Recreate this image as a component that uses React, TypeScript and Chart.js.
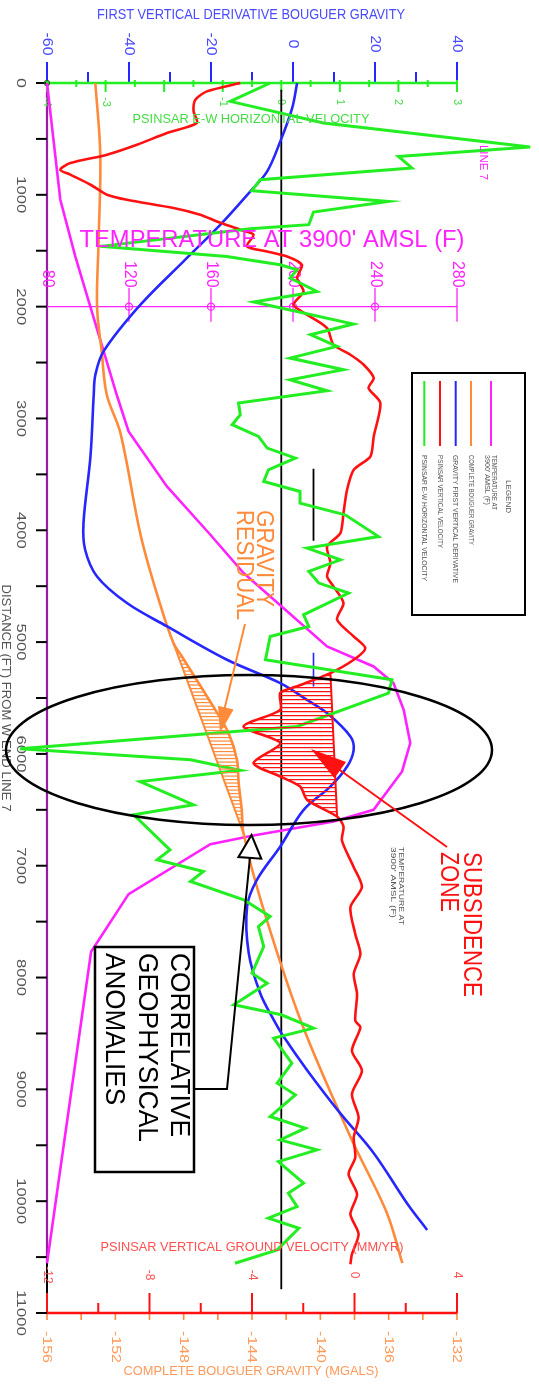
import React, { useEffect, useRef } from 'react';
import { Chart, registerables } from 'chart.js';

Chart.register(...registerables);

const W = 539;
const H = 1395;
const FONT = '"Liberation Sans", Arial, sans-serif';

// ---------- DATA ----------
// Temperature at 3900' AMSL (F)
const tempDistance = [0, 1044, 1551, 2788, 3116, 3608, 4040, 4383, 5039, 5218, 5367, 5606, 5903, 6157, 6500, 6604, 6732, 6807, 7254, 7770, 10555];
const temperatureF = [80, 86.5, 93.8, 114, 119.8, 138.5, 159.7, 175.9, 216.6, 239.3, 249, 254, 257.2, 253.2, 239.3, 219.8, 180, 159.7, 119.8, 101.5, 80];

// Complete Bouguer gravity (mGal)
const gravDistance = [0, 641, 1417, 2000, 2400, 2788, 3131, 4056, 4651, 5009, 5129, 5606, 5814, 6053, 6261, 6500, 6708, 7304, 8378, 9422, 10107, 10555];
const gravityMgal = [-153.17, -152.88, -152.98, -153.07, -152.8, -152.5, -151.7, -150.5, -149.4, -148.6, -148.1, -146.15, -145.37, -144.88, -144.78, -144.6, -144.5, -143.5, -141.17, -138.25, -136.1, -135.2];
// Regional gravity trend bounding the residual
const regionalDistance = [5009, 6708];
const regionalMgal = [-148.6, -144.5];

// Gravity first vertical derivative
const fvdDistance = [0, 224, 522, 791, 969, 1267, 1595, 1983, 2400, 2609, 2788, 3340, 3936, 4174, 4413, 4651, 4860, 5158, 5367, 5516, 5635, 5844, 5963, 6113, 6292, 6500, 6828, 7126, 7365, 7782, 8140, 8378, 8528, 8826, 9213, 9571, 10018, 10257];
const fvdValue = [1.0, -0.2, -3.1, -6.3, -10.4, -17.7, -26.7, -37.2, -46.2, -48.2, -48.6, -49.4, -51.1, -50.7, -47.8, -40.5, -30.7, -16.1, -3.1, 3.4, 8.3, 14.0, 14.8, 13.2, 9.1, 2.6, -3.1, -8.8, -11.2, -10.8, -8.0, -4.7, -2.3, 3.4, 11.5, 19.7, 27.8, 32.7];

// PSInSAR vertical ground velocity (mm/yr)
const velDistance = [0, 75, 149, 254, 358, 447, 552, 641, 716, 775, 820, 910, 999, 1044, 1118, 1178, 1238, 1312, 1357, 1461, 1506, 1551, 1625, 1744, 1864, 1983, 2072, 2192, 2341, 2430, 2520, 2639, 2728, 2862, 3161, 3340, 3459, 3638, 3846, 4025, 4145, 4293, 4413, 4502, 4651, 4800, 4950, 5054, 5158, 5277, 5400, 5456, 5606, 5755, 5903, 6082, 6202, 6292, 6411, 6560, 6649, 6774, 7013, 7192, 7371, 7610, 7789, 7968, 8147, 8386, 8446, 8654, 8833, 9042, 9251, 9430, 9609, 9758, 9937, 10116, 10295, 10474, 10564];
const velValue = [-4.46, -5.76, -6.21, -6.28, -6.15, -7.32, -8.49, -9.66, -11.09, -11.48, -11.09, -10.3, -9.66, -8.88, -7.06, -6.02, -5.37, -4.46, -3.94, -4.2, -3.41, -2.63, -2.05, -2.24, -1.99, -2.38, -1.85, -1.07, -0.82, -0.16, 0.36, 0.75, 0.55, 1.01, 0.75, 0.62, -0.03, -0.29, -0.43, -0.55, -1.07, -0.94, -1.07, -0.82, -0.43, -0.68, -0.03, 0.42, -0.03, -0.94, -2.3, -2.9, -2.9, -4.33, -2.9, -3.94, -2.9, -2.12, -1.85, -0.68, -0.43, -0.49, -0.03, 0.29, -0.16, 0.03, 0.23, -0.03, 0.1, 0.03, 0.23, -0.1, 0.29, -0.1, 0.16, -0.03, 0.03, -0.23, 0.1, -0.16, 0.16, -0.1, -0.16];
// boundary of the subsidence hatch
const velBoundDistance = [5277, 6560];
const velBoundValue = [-0.94, -0.68];

// PSInSAR E-W horizontal velocity
const ewDistance = [0, 164, 358, 572, 657, 760, 865, 963, 1059, 1154, 1267, 1303, 1461, 1551, 1625, 1670, 1744, 1864, 1959, 2156, 2251, 2356, 2460, 2564, 2654, 2752, 2862, 2967, 3056, 3161, 3265, 3354, 3459, 3563, 3653, 3757, 3862, 4056, 4159, 4264, 4368, 4472, 4562, 4756, 4860, 4950, 5158, 5337, 5456, 5755, 5953, 6053, 6147, 6247, 6455, 6545, 6858, 6947, 7052, 7141, 7305, 7454, 7544, 7723, 7961, 8050, 8244, 8333, 8452, 8542, 8766, 8945, 9049, 9243, 9347, 9452, 9541, 9646, 9839, 9929, 10048, 10152, 10242, 10436, 10555];
const ewValue = [-0.19, -0.87, 0.72, 4.25, 2.0, 2.23, -0.36, -0.5, 1.83, 0.55, 0.47, -0.53, -3.09, -0.93, -0.02, 0.27, 0.15, 0.61, -0.47, 1.23, 0.5, 0.95, 0.15, 1.06, 0.15, 0.78, -0.73, -0.7, -0.84, -0.39, -0.24, 0.24, -0.22, -0.3, 0.32, 0.32, 1.09, 1.66, 0.44, 1.01, 0.47, 0.64, 1.15, 0.38, 0.47, -0.19, -0.27, 1.89, 1.83, 0.27, -4.46, -1.55, -0.7, -2.41, -1.5, -2.52, -1.9, -2.12, -1.33, -1.55, -0.64, -0.19, -0.39, -0.3, -0.5, -0.24, -0.81, 0.0, 0.55, -0.13, 0.18, -0.07, 0.24, -0.19, 0.41, -0.02, 0.61, -0.05, 0.38, 0.12, 0.27, -0.22, 0.3, -0.07, -0.79];

// reference markers
const ewZeroDistance = [60, 10787];
const ewMarkDistance = [3449, 4094];
const ewMarkValue = 0.55;
const fvdMarkDistance = [5096, 5397];
const fvdMarkValue = 5;

// tick labels
const distanceLabels = [0, 1000, 2000, 3000, 4000, 5000, 6000, 7000, 8000, 9000, 10000, 11000];
const fvdLabels = [-60, -40, -20, 0, 20, 40];
const ewLabels = [-4, -3, -1, 0, 1, 2, 3];
const velLabels = [-12, -8, -4, 0, 4];
const gravLabels = [-156, -152, -148, -144, -140, -136, -132];
const tempLabels = [80, 120, 160, 200, 240, 280];

// ---------- COLOURS ----------
const C = {
  green: '#22ee22',
  greenText: '#44dd44',
  blue: '#2626ff',
  blueText: '#4a4aff',
  red: '#ff1111',
  redText: '#ff5050',
  orange: '#ff8a3a',
  orangeText: '#ff9a5a',
  magenta: '#ff22ff',
  purple: '#9a1aa8',
  grey: '#555555',
};

const pts = (xs: number[], ds: number[]) => ds.map((d, i) => ({ x: xs[i], y: d }));

function txt(ctx: CanvasRenderingContext2D, s: string, x: number, y: number, size: number, color: string, o: any = {}) {
  ctx.save();
  ctx.translate(x, y);
  if (o.rot) ctx.rotate(Math.PI / 2);
  ctx.font = `${size}px ${FONT}`;
  ctx.fillStyle = color;
  ctx.textAlign = o.align || 'center';
  ctx.textBaseline = 'middle';
  if (o.len) {
    const w = ctx.measureText(s).width;
    ctx.scale(o.len / w, 1);
  }
  ctx.fillText(s, 0, 0);
  ctx.restore();
}

function line(ctx: CanvasRenderingContext2D, x1: number, y1: number, x2: number, y2: number, color: string, w: number) {
  ctx.beginPath();
  ctx.moveTo(x1, y1);
  ctx.lineTo(x2, y2);
  ctx.strokeStyle = color;
  ctx.lineWidth = w;
  ctx.stroke();
}

function head(ctx: CanvasRenderingContext2D, tx: number, ty: number, fx: number, fy: number, len: number, wid: number, fill: string, stroke?: string) {
  const a = Math.atan2(ty - fy, tx - fx);
  const bx = tx - Math.cos(a) * len;
  const by = ty - Math.sin(a) * len;
  const nx = -Math.sin(a) * wid / 2;
  const ny = Math.cos(a) * wid / 2;
  ctx.beginPath();
  ctx.moveTo(tx, ty);
  ctx.lineTo(bx + nx, by + ny);
  ctx.lineTo(bx - nx, by - ny);
  ctx.closePath();
  ctx.fillStyle = fill;
  ctx.fill();
  if (stroke) {
    ctx.strokeStyle = stroke;
    ctx.lineWidth = 2;
    ctx.stroke();
  }
}

function pix(chart: any, xid: string, xs: number[], ds: number[]) {
  const sx = chart.scales[xid];
  const sy = chart.scales.y;
  return ds.map((d, i) => ({ x: sx.getPixelForValue(xs[i]), y: sy.getPixelForValue(d) }));
}

function interpX(p: { x: number; y: number }[], y: number) {
  for (let i = 0; i < p.length - 1; i++) {
    const a = p[i], b = p[i + 1];
    if ((a.y - y) * (b.y - y) <= 0 && a.y !== b.y) {
      const t = (y - a.y) / (b.y - a.y);
      return a.x + t * (b.x - a.x);
    }
  }
  return null;
}

function hatch(ctx: CanvasRenderingContext2D, A: any[], B: any[], y0: number, y1: number, step: number, color: string) {
  ctx.save();
  ctx.strokeStyle = color;
  ctx.lineWidth = 1.2;
  for (let y = y0; y <= y1; y += step) {
    const xa = interpX(A, y);
    const xb = interpX(B, y);
    if (xa === null || xb === null) continue;
    ctx.beginPath();
    ctx.moveTo(xa, y);
    ctx.lineTo(xb, y);
    ctx.stroke();
  }
  ctx.restore();
}

const overlay = {
  id: 'overlay',
  beforeDatasetsDraw(chart: any) {
    const ctx: CanvasRenderingContext2D = chart.ctx;
    const { left, right, top, bottom } = chart.chartArea;
    const sy = chart.scales.y;
    const sF = chart.scales.xFVD, sE = chart.scales.xEW, sV = chart.scales.xVel, sG = chart.scales.xGrav, sT = chart.scales.xTemp;
    ctx.save();
    ctx.lineCap = 'butt';

    // left distance axis
    line(ctx, left, top, left, 1262, C.purple, 2.2);
    line(ctx, left, 1262, left, bottom, '#000', 2);
    for (let d = 0; d <= 11000; d += 500) {
      const y = sy.getPixelForValue(d);
      line(ctx, left - 11, y, left, y, '#000', 2);
    }
    distanceLabels.forEach((d) => {
      const s = String(d);
      const len = s.length === 1 ? 10 : s.length === 4 ? 37 : 46;
      txt(ctx, s, 21, sy.getPixelForValue(d), 13, C.grey, { rot: true, len });
    });

    // temperature axis at 2000 ft
    const yT = sy.getPixelForValue(2000);
    line(ctx, left, yT, right, yT, C.magenta, 1.3);
    tempLabels.forEach((t) => {
      const x = sT.getPixelForValue(t);
      if (t !== 80) line(ctx, x, yT - 19, x, yT + 15, C.magenta, 1.3);
      if (t > 80 && t < 280) {
        ctx.beginPath();
        ctx.arc(x, yT, 3.5, 0, Math.PI * 2);
        ctx.strokeStyle = C.magenta;
        ctx.lineWidth = 1.3;
        ctx.stroke();
      }
      txt(ctx, String(t), x, yT - 19, 16, C.magenta, { rot: true, align: 'right' });
    });

    // top axis: first vertical derivative (blue) + E-W velocity (green)
    for (let v = -60; v <= 40; v += 10) {
      const x = sF.getPixelForValue(v);
      const major = v % 20 === 0;
      line(ctx, x, major ? top - 21 : top - 11, x, top, C.blue, 2);
    }
    line(ctx, left, top, right, top, C.green, 2.6);
    for (let v = -4; v <= 3.001; v += 0.5) {
      const x = sE.getPixelForValue(v);
      const major = Math.abs(v - Math.round(v)) < 0.01;
      if (major) line(ctx, x, top - 3, x, top + 9, C.green, 2);
      else line(ctx, x, top - 3, x, top + 4, C.green, 2);
    }
    fvdLabels.forEach((v) => {
      const s = String(v);
      txt(ctx, s, sF.getPixelForValue(v), 44, 14, C.blueText, { rot: true, len: s.length === 1 ? 9 : s.length === 2 ? 17 : 23 });
    });
    ewLabels.forEach((v) => {
      txt(ctx, String(v), sE.getPixelForValue(v), 102, 11, C.greenText, { rot: true });
    });
    ctx.beginPath();
    ctx.arc(left, top, 2.5, 0, Math.PI * 2);
    ctx.strokeStyle = '#116611';
    ctx.lineWidth = 1.2;
    ctx.stroke();

    // bottom axis: vertical velocity (red) + Bouguer gravity (orange)
    for (let g = -156; g <= -132; g += 2) {
      const x = sG.getPixelForValue(g);
      line(ctx, x, bottom, x, bottom + 7, C.orange, 1.6);
    }
    for (let v = -12; v <= 4; v += 2) {
      const x = sV.getPixelForValue(v);
      const major = v % 4 === 0;
      line(ctx, x, major ? bottom - 20 : bottom - 10, x, bottom, C.red, 2);
    }
    line(ctx, left - 11, bottom, left, bottom, '#000', 2);
    line(ctx, left, bottom, right, bottom, C.red, 2.6);
    velLabels.forEach((v) => {
      txt(ctx, String(v), sV.getPixelForValue(v), 1275, 12, C.redText, { rot: true });
    });
    gravLabels.forEach((g) => {
      txt(ctx, String(g), sG.getPixelForValue(g), 1331, 13, C.orangeText, { rot: true, align: 'left', len: 32 });
    });
    ctx.restore();
  },
  afterDatasetsDraw(chart: any) {
    const ctx: CanvasRenderingContext2D = chart.ctx;
    const sy = chart.scales.y;
    // gravity residual hatch
    const G = pix(chart, 'xGrav', gravityMgal, gravDistance);
    const R = pix(chart, 'xGrav', regionalMgal, regionalDistance);
    hatch(ctx, G, R, sy.getPixelForValue(5040), sy.getPixelForValue(6690), 3.5, C.orange);
    // subsidence hatch
    const V = pix(chart, 'xVel', velValue, velDistance);
    const B = pix(chart, 'xVel', velBoundValue, velBoundDistance);
    hatch(ctx, V, B, sy.getPixelForValue(5300), sy.getPixelForValue(6550), 4, C.red);
  },
  afterDraw(chart: any) {
    const ctx: CanvasRenderingContext2D = chart.ctx;
    ctx.save();
    // titles
    txt(ctx, 'FIRST VERTICAL DERIVATIVE BOUGUER GRAVITY', 251, 15, 14, C.blueText, { len: 308 });
    txt(ctx, 'PSINSAR E-W HORIZONTAL VELOCITY', 251, 119, 13, C.greenText, { len: 237 });
    txt(ctx, "TEMPERATURE AT 3900' AMSL (F)", 272, 241, 23, C.magenta, { len: 385 });
    txt(ctx, 'PSINSAR VERTICAL GROUND VELOCITY (MM/YR)', 252, 1247, 13, C.redText, { len: 303 });
    txt(ctx, 'COMPLETE BOUGUER GRAVITY (MGALS)', 251, 1371, 13, C.orangeText, { len: 255 });
    txt(ctx, 'DISTANCE (FT) FROM W END LINE 7', 6, 698, 13, C.grey, { rot: true, len: 227 });
    txt(ctx, 'LINE 7', 483, 145, 11, C.magenta, { rot: true, align: 'left', len: 35 });

    // ellipse
    ctx.beginPath();
    ctx.ellipse(249, 750, 243, 75, 0, 0, Math.PI * 2);
    ctx.strokeStyle = '#000';
    ctx.lineWidth = 2.5;
    ctx.stroke();

    // gravity residual label + arrow
    txt(ctx, 'GRAVITY', 264, 510, 24, C.orange, { rot: true, align: 'left', len: 97 });
    txt(ctx, 'RESIDUAL', 244, 510, 24, C.orange, { rot: true, align: 'left', len: 110 });
    line(ctx, 245, 624, 223, 715, C.orange, 2);
    head(ctx, 220, 733, 245, 624, 26, 16, C.orange);

    // subsidence zone label + arrow
    txt(ctx, 'SUBSIDENCE', 471, 852, 25, C.red, { rot: true, align: 'left', len: 145 });
    txt(ctx, 'ZONE', 448, 852, 25, C.red, { rot: true, align: 'left', len: 60 });
    line(ctx, 447, 847, 330, 763, C.red, 2);
    head(ctx, 311, 749, 447, 847, 36, 20, C.red);

    // small temperature note
    txt(ctx, 'TEMPERATURE AT', 401, 847, 8, C.grey, { rot: true, align: 'left', len: 78 });
    txt(ctx, "3900' AMSL (F)", 393.5, 847, 8, C.grey, { rot: true, align: 'left', len: 71 });

    // correlative anomalies box and arrow
    ctx.strokeStyle = '#000';
    ctx.lineWidth = 2.5;
    ctx.strokeRect(95, 947, 99, 225);
    txt(ctx, 'CORRELATIVE', 178, 953, 27, '#000', { rot: true, align: 'left', len: 184 });
    txt(ctx, 'GEOPHYSICAL', 146.5, 953, 27, '#000', { rot: true, align: 'left', len: 189 });
    txt(ctx, 'ANOMALIES', 113, 953, 27, '#000', { rot: true, align: 'left', len: 152 });
    ctx.beginPath();
    ctx.moveTo(195, 1089);
    ctx.lineTo(227, 1089);
    ctx.lineTo(250, 857);
    ctx.strokeStyle = '#000';
    ctx.lineWidth = 2;
    ctx.stroke();
    head(ctx, 251.5, 835, 249, 870, 23, 23, '#fff', '#000');

    // legend
    ctx.strokeStyle = '#000';
    ctx.lineWidth = 2;
    ctx.strokeRect(412, 373, 113, 242);
    txt(ctx, 'LEGEND', 508, 480, 8, C.grey, { rot: true, align: 'left', len: 33 });
    const leg = [
      { x: 491, c: C.magenta, t: ['TEMPERATURE AT', "3900' AMSL (F)"], l: [55, 50] },
      { x: 471, c: C.orange, t: ['COMPLETE BOUGUER GRAVITY'], l: [90] },
      { x: 455.7, c: C.blue, t: ['GRAVITY FIRST VERTICAL DERIVATIVE'], l: [128] },
      { x: 440, c: C.red, t: ['PSINSAR VERTICAL VELOCITY'], l: [93] },
      { x: 424.3, c: C.green, t: ['PSINSAR E-W HORIZONTAL VELOCITY'], l: [126] },
    ];
    leg.forEach((e) => {
      line(ctx, e.x, 381, e.x, 446, e.c, 2);
      if (e.t.length === 2) {
        txt(ctx, e.t[0], e.x + 3.5, 455, 8, C.grey, { rot: true, align: 'left', len: e.l[0] });
        txt(ctx, e.t[1], e.x - 3.5, 455, 8, C.grey, { rot: true, align: 'left', len: e.l[1] });
      } else {
        txt(ctx, e.t[0], e.x, 455, 8, C.grey, { rot: true, align: 'left', len: e.l[0] });
      }
    });
    ctx.restore();
  },
};

export default function App() {
  const ref = useRef<HTMLCanvasElement | null>(null);
  useEffect(() => {
    if (!ref.current) return;
    const base = { showLine: true, pointRadius: 0, fill: false, clip: false, yAxisID: 'y' };
    const chart = new Chart(ref.current, {
      type: 'scatter',
      data: {
        datasets: [
          { ...base, label: 'PSInSAR E-W horizontal velocity', data: pts(ewValue, ewDistance), xAxisID: 'xEW', borderColor: C.green, borderWidth: 3, tension: 0 },
          { ...base, label: 'PSInSAR vertical velocity', data: pts(velValue, velDistance), xAxisID: 'xVel', borderColor: C.red, borderWidth: 2.6, tension: 0.25 },
          { ...base, label: 'Subsidence bound', data: pts(velBoundValue, velBoundDistance), xAxisID: 'xVel', borderColor: C.red, borderWidth: 2, tension: 0 },
          { ...base, label: 'Gravity first vertical derivative', data: pts(fvdValue, fvdDistance), xAxisID: 'xFVD', borderColor: C.blue, borderWidth: 2.6, tension: 0.35 },
          { ...base, label: 'FVD marker', data: fvdMarkDistance.map((d) => ({ x: fvdMarkValue, y: d })), xAxisID: 'xFVD', borderColor: C.blue, borderWidth: 1.6, tension: 0 },
          { ...base, label: 'Complete Bouguer gravity', data: pts(gravityMgal, gravDistance), xAxisID: 'xGrav', borderColor: C.orange, borderWidth: 2.6, tension: 0.35 },
          { ...base, label: 'Regional gravity', data: pts(regionalMgal, regionalDistance), xAxisID: 'xGrav', borderColor: C.orange, borderWidth: 2, tension: 0 },
          { ...base, label: 'Temperature', data: pts(temperatureF, tempDistance), xAxisID: 'xTemp', borderColor: C.magenta, borderWidth: 2.6, tension: 0 },
          { ...base, label: 'E-W zero', data: ewZeroDistance.map((d) => ({ x: 0, y: d })), xAxisID: 'xEW', borderColor: '#000', borderWidth: 1.8, tension: 0 },
          { ...base, label: 'E-W marker', data: ewMarkDistance.map((d) => ({ x: ewMarkValue, y: d })), xAxisID: 'xEW', borderColor: '#000', borderWidth: 1.8, tension: 0 },
        ] as any,
      },
      options: {
        responsive: false,
        maintainAspectRatio: false,
        devicePixelRatio: 1,
        animation: false,
        events: [],
        layout: { padding: { left: 47, right: 82, top: 83, bottom: 82 } },
        plugins: { legend: { display: false }, tooltip: { enabled: false } },
        scales: {
          y: { type: 'linear', axis: 'y', min: 0, max: 11000, reverse: true, display: false },
          xFVD: { type: 'linear', axis: 'x', min: -60, max: 40, display: false },
          xEW: { type: 'linear', axis: 'x', min: -4, max: 3, display: false },
          xVel: { type: 'linear', axis: 'x', min: -12, max: 4, display: false },
          xGrav: { type: 'linear', axis: 'x', min: -156, max: -132, display: false },
          xTemp: { type: 'linear', axis: 'x', min: 80, max: 280, display: false },
        } as any,
      },
      plugins: [overlay as any],
    });
    return () => chart.destroy();
  }, []);
  return (
    <div style={{ position: 'absolute', left: 0, top: 0, width: W, height: H, background: '#fff' }}>
      <canvas ref={ref} width={W} height={H} style={{ display: 'block', width: W, height: H }} />
    </div>
  );
}
